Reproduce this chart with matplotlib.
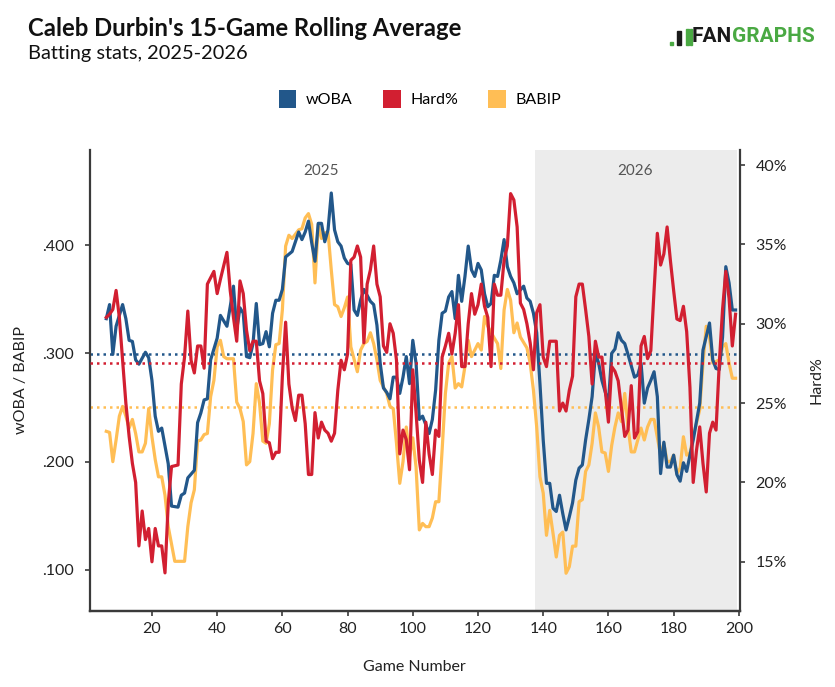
import numpy as np
import matplotlib.pyplot as plt
from matplotlib.patches import Patch, Rectangle

plt.rcParams['font.family'] = ['Lato', 'DejaVu Sans']

# 15-game rolling averages (game number, value)
woba_games = [6, 7, 8, 9, 11, 12, 13, 14, 15, 16, 18, 19, 20, 21, 22, 23, 25, 26, 28, 29,
              30, 31, 33, 34, 35, 36, 37, 38, 40, 41, 43, 44, 45, 46, 47, 48, 49, 50, 51, 52,
              53, 54, 55, 56, 57, 58, 59, 60, 61, 63, 64, 65, 66, 67, 68, 69, 70, 71, 72, 73,
              74, 75, 76, 77, 78, 79, 80, 81, 82, 83, 84, 85, 87, 88, 89, 90, 91, 92, 93, 94,
              95, 96, 97, 98, 99, 100, 101, 102, 103, 105, 106, 107, 108, 109, 110, 111, 112, 113, 114, 115,
              116, 117, 118, 119, 120, 121, 122, 123, 124, 125, 126, 127, 128, 129, 130, 131, 132, 134, 135, 136,
              137, 138, 139, 140, 141, 142, 143, 144, 145, 146, 147, 148, 149, 150, 151, 152, 153, 154, 155, 156,
              157, 158, 160, 161, 162, 163, 164, 165, 166, 168, 169, 170, 171, 172, 173, 174, 175, 176, 177, 178,
              179, 180, 181, 182, 183, 184, 185, 186, 188, 189, 191, 192, 193, 194, 195, 196, 197, 198, 199]
woba = [.332, .345, .299, .325, .345, .332, .312, .311, .294, .290, .301, .296, .275, .242, .228, .231, .198, .159, .158, .169,
        .171, .185, .192, .236, .245, .257, .258, .294, .314, .335, .325, .343, .362, .322, .342, .337, .297, .296, .309, .346,
        .308, .309, .320, .306, .337, .349, .349, .359, .389, .394, .403, .412, .405, .412, .422, .402, .385, .420, .420, .403,
        .414, .448, .414, .403, .399, .388, .383, .382, .340, .335, .349, .359, .348, .345, .326, .291, .268, .264, .258, .278,
        .278, .263, .278, .297, .272, .312, .291, .239, .242, .226, .239, .266, .312, .337, .339, .352, .357, .332, .372, .348,
        .371, .399, .377, .371, .383, .377, .355, .343, .346, .372, .371, .386, .405, .380, .371, .365, .355, .362, .351, .348,
        .337, .319, .272, .220, .180, .180, .157, .154, .169, .152, .137, .149, .162, .183, .194, .197, .220, .239, .260, .300,
        .291, .275, .254, .300, .304, .319, .312, .309, .299, .278, .280, .291, .254, .268, .275, .283, .260, .189, .218, .195,
        .195, .206, .188, .182, .199, .191, .206, .220, .254, .303, .328, .294, .286, .285, .315, .380, .365, .340, .340]

hard_games = [6, 7, 8, 9, 10, 11, 12, 13, 14, 15, 16, 17, 18, 19, 20, 21, 22, 23, 24, 25,
              26, 28, 29, 30, 31, 32, 33, 34, 35, 36, 37, 39, 40, 41, 43, 44, 45, 46, 47, 48,
              49, 50, 51, 52, 53, 54, 55, 56, 57, 58, 59, 60, 61, 62, 63, 64, 65, 66, 67, 68,
              69, 70, 71, 72, 73, 74, 75, 76, 77, 78, 79, 80, 81, 82, 83, 84, 85, 86, 87, 88,
              89, 90, 91, 92, 93, 94, 95, 96, 97, 98, 99, 100, 101, 102, 103, 104, 105, 106, 107, 108,
              109, 110, 111, 112, 113, 114, 115, 116, 117, 118, 119, 120, 121, 122, 123, 124, 125, 126, 127, 128,
              129, 130, 131, 132, 133, 134, 135, 136, 137, 138, 139, 140, 141, 142, 144, 145, 146, 147, 148, 149,
              150, 151, 152, 153, 154, 155, 156, 157, 158, 160, 161, 162, 163, 165, 166, 167, 168, 169, 170, 171,
              172, 173, 174, 175, 176, 177, 178, 179, 180, 181, 182, 183, 184, 185, 186, 187, 188, 189, 190, 191,
              192, 193, 194, 195, 196, 197, 198, 199]
hard = [30.4, 30.6, 30.9, 32.1, 30.4, 27.7, 25.0, 22.9, 21.2, 20.0, 16.0, 18.2, 16.4, 17.1, 15.0, 17.1, 16.0, 16.0, 14.3, 18.7,
        21.0, 21.1, 26.2, 27.9, 30.8, 27.7, 26.9, 28.6, 28.6, 27.2, 32.5, 33.3, 31.9, 32.8, 34.5, 32.1, 30.4, 28.9, 32.7, 31.9,
        29.6, 28.3, 28.9, 28.9, 26.4, 25.6, 22.6, 22.5, 21.5, 21.9, 21.9, 26.7, 30.1, 26.2, 24.7, 23.9, 25.5, 25.5, 23.7, 20.5,
        20.5, 24.4, 22.8, 23.8, 23.3, 23.1, 22.6, 23.1, 25.8, 27.7, 27.1, 28.1, 34.0, 34.2, 34.9, 34.2, 28.8, 32.5, 33.4, 34.9,
        32.5, 31.7, 28.6, 28.2, 30.0, 29.4, 27.7, 21.8, 23.3, 22.7, 20.8, 27.1, 24.4, 21.4, 20.0, 23.8, 21.8, 20.5, 23.3, 22.9,
        27.9, 28.6, 29.4, 28.1, 29.4, 31.2, 27.3, 27.3, 30.0, 31.9, 30.6, 31.2, 32.5, 31.1, 30.4, 27.3, 32.5, 31.8, 31.8, 34.0,
        34.9, 38.2, 37.8, 36.1, 31.3, 30.9, 30.0, 28.8, 27.1, 30.7, 31.2, 27.9, 27.3, 28.9, 28.9, 24.5, 25.0, 24.5, 25.8, 26.7,
        31.7, 32.5, 32.5, 30.9, 29.2, 26.2, 28.9, 27.9, 27.9, 23.8, 27.3, 27.0, 26.4, 22.9, 23.3, 26.1, 22.8, 23.2, 28.6, 29.2,
        27.8, 28.3, 32.1, 35.7, 33.7, 34.4, 36.1, 34.0, 32.1, 30.3, 30.2, 31.1, 29.5, 26.0, 20.0, 22.0, 23.5, 21.2, 19.4, 23.1,
        23.8, 23.3, 27.5, 30.9, 33.3, 31.6, 28.6, 30.6]

babip_games = [6, 7, 8, 9, 10, 11, 12, 13, 14, 15, 16, 17, 18, 19, 20, 21, 22, 23, 24, 25,
               27, 28, 30, 31, 32, 33, 34, 35, 36, 37, 38, 39, 40, 41, 42, 43, 45, 46, 47, 48,
               49, 50, 51, 52, 53, 54, 55, 56, 57, 58, 59, 60, 61, 62, 63, 65, 66, 67, 68, 69,
               70, 71, 72, 73, 74, 75, 76, 77, 78, 79, 80, 81, 83, 84, 85, 86, 87, 88, 89, 90,
               91, 92, 93, 94, 95, 96, 97, 98, 99, 100, 101, 102, 103, 104, 105, 106, 107, 108, 109, 110,
               111, 112, 113, 114, 115, 116, 117, 118, 119, 120, 121, 122, 123, 125, 126, 127, 128, 129, 130, 131,
               132, 133, 135, 136, 137, 138, 139, 140, 141, 142, 143, 144, 145, 146, 147, 148, 149, 150, 151, 152,
               153, 154, 155, 156, 157, 158, 159, 160, 161, 162, 163, 164, 165, 166, 167, 168, 169, 170, 171, 172,
               173, 174, 176, 177, 178, 179, 180, 181, 182, 183, 184, 185, 186, 188, 189, 190, 191, 192, 194, 195,
               196, 197, 198, 199]
babip = [.228, .227, .200, .220, .242, .251, .242, .231, .239, .226, .209, .209, .217, .249, .223, .202, .186, .186, .169, .140,
         .108, .108, .108, .140, .162, .174, .219, .220, .225, .226, .260, .275, .306, .312, .297, .295, .295, .255, .249, .237,
         .197, .200, .226, .272, .254, .219, .217, .235, .285, .308, .309, .340, .399, .409, .406, .414, .415, .425, .429, .419,
         .365, .419, .406, .411, .412, .377, .345, .343, .334, .342, .352, .306, .283, .303, .309, .311, .319, .309, .294, .275,
         .269, .263, .251, .249, .217, .180, .200, .232, .205, .222, .195, .137, .143, .140, .140, .148, .163, .163, .211, .263,
         .291, .297, .268, .272, .269, .288, .312, .297, .303, .309, .303, .334, .325, .314, .309, .286, .340, .359, .349, .319,
         .328, .315, .305, .291, .266, .232, .186, .171, .132, .155, .134, .112, .132, .135, .097, .103, .122, .122, .163, .165,
         .191, .197, .217, .245, .232, .209, .208, .191, .215, .232, .245, .237, .263, .232, .209, .209, .220, .231, .220, .232,
         .239, .239, .206, .217, .200, .200, .206, .189, .194, .223, .206, .208, .223, .248, .291, .325, .315, .291, .294, .306,
         .309, .291, .277, .277]

series_names = ['wOBA', 'Hard%', 'BABIP']
series_colors = ['#22578a', '#d21f31', '#ffbe55']
mean_woba, mean_hard, mean_babip = .299, 27.5, .250
season_labels = ['2025', '2026']
season_split = 137.5

fig = plt.figure(figsize=(8.35, 6.87), dpi=100)
ax = fig.add_axes([90 / 835, 1 - 610.5 / 687, 649.5 / 835, 460.5 / 687])
ax2 = ax.twinx()

ax.axvspan(season_split, 199.4, color='#ececec', lw=0, zorder=0)

ax.axhline(mean_woba, color=series_colors[0], lw=1.8, ls=(0, (1, 1.6)), zorder=1)
ax.axhline(mean_babip, color=series_colors[2], lw=1.8, ls=(0, (1, 1.6)), zorder=1)
ax2.axhline(mean_hard, color=series_colors[1], lw=1.8, ls=(0, (1, 1.6)), zorder=1)

ax.plot(woba_games, woba, color=series_colors[0], lw=2.3, zorder=3)
ax.plot(babip_games, babip, color=series_colors[2], lw=2.3, zorder=2)
ax2.plot(hard_games, hard, color=series_colors[1], lw=2.3, zorder=3)

ax.set_xlim(1, 200.2)
ax.set_ylim(0.0626, 0.4877)
ax2.set_ylim(11.93, 40.95)

ax.set_xticks(np.arange(20, 201, 20))
ax.set_yticks([.1, .2, .3, .4])
ax.set_yticklabels([f'{v:.3f}'.lstrip('0') for v in [.1, .2, .3, .4]])
ax2.set_yticks([15, 20, 25, 30, 35, 40])
ax2.set_yticklabels([f'{v}%' for v in [15, 20, 25, 30, 35, 40]])

for a in (ax, ax2):
    a.spines['top'].set_visible(False)
    for s in ('left', 'right', 'bottom'):
        a.spines[s].set_color('#3a3a3a')
        a.spines[s].set_linewidth(1.6)
    a.tick_params(colors='#3a3a3a', labelcolor='#222222', labelsize=11.5, length=3.5, width=1.2)
ax2.spines['left'].set_visible(False)
ax.spines['right'].set_visible(False)
ax.tick_params(axis='x', pad=5)
ax.tick_params(axis='y', pad=8)
ax2.tick_params(axis='y', pad=8)

ax.set_xlabel('Game Number', fontsize=11.5, labelpad=17, color='#222222')
ax.set_ylabel('wOBA / BABIP', fontsize=11.5, labelpad=10, color='#222222')
ax2.set_ylabel('Hard%', fontsize=11.5, labelpad=16, color='#222222')

ax.text((6 + season_split) / 2, 0.955, season_labels[0], transform=ax.get_xaxis_transform(),
        ha='center', va='center', fontsize=11, color='#555555')
ax.text((season_split + 199) / 2, 0.955, season_labels[1], transform=ax.get_xaxis_transform(),
        ha='center', va='center', fontsize=11, color='#555555')

fig.text(28 / 835, 1 - 28 / 687, "Caleb Durbin's 15-Game Rolling Average", fontsize=17.2,
         fontweight='bold', color='#111111', ha='left', va='center')
fig.text(28 / 835, 1 - 53 / 687, 'Batting stats, 2025-2026', fontsize=14.4,
         color='#111111', ha='left', va='center')

handles = [Patch(facecolor=c, edgecolor='none') for c in series_colors]
fig.legend(handles, series_names, loc='center', bbox_to_anchor=(0.503, 1 - 99 / 687), ncol=3,
           frameon=False, handlelength=1.1, handleheight=1.3, handletextpad=0.6,
           columnspacing=1.9, fontsize=11.5)

# FanGraphs wordmark
green = '#4aa943'
t2 = fig.text(815 / 835, 1 - 36 / 687, 'GRAPHS', fontsize=15, fontweight='bold',
              color=green, ha='right', va='center', family=['Roboto', 'DejaVu Sans'])
fig.canvas.draw()
bb = t2.get_window_extent()
t1 = fig.text(bb.x0 / 835, 1 - 36 / 687, 'FAN', fontsize=15, fontweight='bold',
              color='#1a1a1a', ha='right', va='center', family=['Roboto', 'DejaVu Sans'])
fig.canvas.draw()
lx = t1.get_window_extent().x0
for dx, y0, w, h, c in [(-22, 42, 3, 3, green), (-6, 29, 2.5, 16, green), (-2.5, 29, 2.5, 16, green),
                        (-15, 31, 4, 14, '#1a1a1a')]:
    fig.patches.append(Rectangle(((lx + dx) / 835, 1 - (y0 + h) / 687), w / 835, h / 687,
                                 transform=fig.transFigure, color=c))

fig.savefig('out.png', dpi=100, facecolor='white')
